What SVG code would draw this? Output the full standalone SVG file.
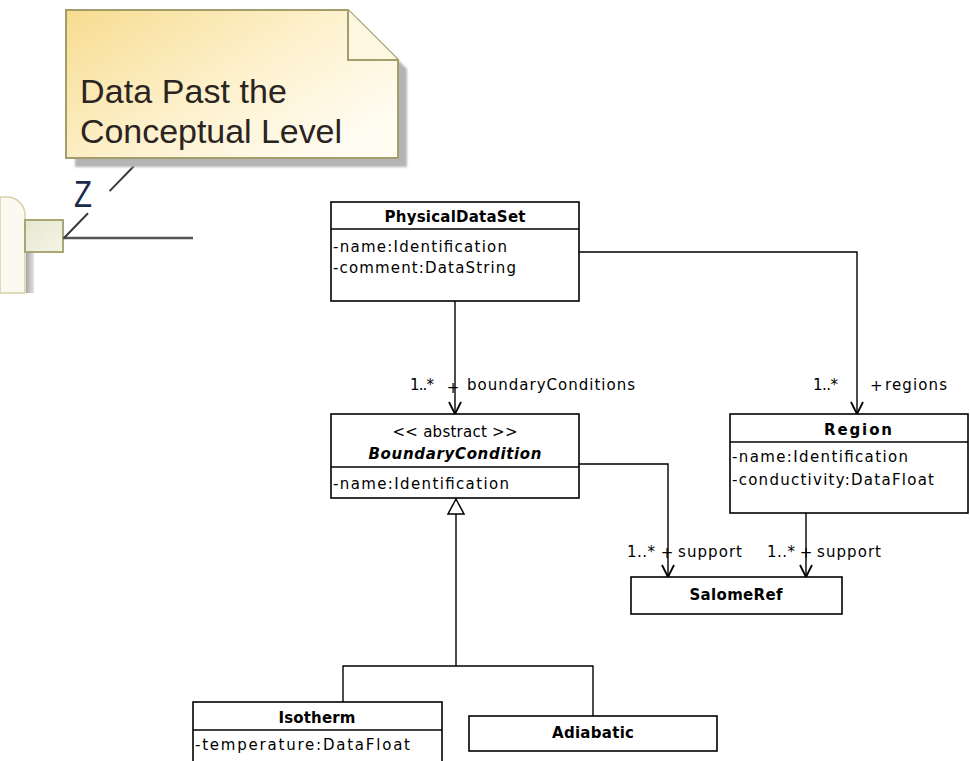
<svg xmlns="http://www.w3.org/2000/svg" width="970" height="761" viewBox="0 0 970 761">
<defs>
  <linearGradient id="noteFill" x1="0" y1="0" x2="1" y2="0.7">
    <stop offset="0" stop-color="#f7dc90"/>
    <stop offset="0.55" stop-color="#fdf1cc"/>
    <stop offset="1" stop-color="#fffcf2"/>
  </linearGradient>
  <linearGradient id="portFill" x1="0" y1="0" x2="1" y2="1">
    <stop offset="0" stop-color="#e6e6cf"/>
    <stop offset="1" stop-color="#f5f5e8"/>
  </linearGradient>
  <linearGradient id="edgeShade" x1="0" y1="0" x2="1" y2="0">
    <stop offset="0" stop-color="#a6a6a6"/>
    <stop offset="1" stop-color="#e2e2e2"/>
  </linearGradient>
  <filter id="soft" x="-10%" y="-10%" width="120%" height="120%">
    <feGaussianBlur stdDeviation="1.2"/>
  </filter>
  <marker id="open" viewBox="0 0 14 14" refX="13" refY="7" markerWidth="14" markerHeight="14" markerUnits="userSpaceOnUse" orient="auto">
    <path d="M1,1 L13,7 L1,13" fill="none" stroke="#000" stroke-width="1.8"/>
  </marker>
</defs>
<style>
  .box { fill: #fff; stroke: #000; stroke-width: 1.6; }
  .sep { stroke: #000; stroke-width: 1.4; }
  .edge { fill: none; stroke: #000; stroke-width: 1.4; }
  .t { font-family: "DejaVu Sans", "Liberation Sans", sans-serif; font-size: 15px; fill: #000; }
  .title { font-weight: bold; text-anchor: middle; }
  .mid { text-anchor: middle; }
  .note { font-family: "Liberation Sans", Arial, sans-serif; font-size: 34px; fill: #2a2422; }
</style>

<rect width="970" height="761" fill="#fff"/>

<!-- pasted fragment: part frame with port and a note -->
<g id="fragment">
  <path d="M0,197 H7 A18,18 0 0 1 25,215 V293 H0 Z" fill="#fbfaf1" stroke="#d6cfa8" stroke-width="1.5"/>
  <rect x="26" y="251" width="8" height="42" fill="url(#edgeShade)"/>
  <rect x="25" y="220" width="38" height="32" fill="url(#portFill)" stroke="#aaa676" stroke-width="2"/>
  <line x1="63" y1="238" x2="193" y2="238" stroke="#555" stroke-width="2.5"/>
  <line x1="134" y1="166" x2="64" y2="238" stroke="#3a3a3a" stroke-width="2" stroke-dasharray="35 31 40"/>
  <text x="74" y="207" font-family="Liberation Sans, Arial, sans-serif" font-size="36" fill="#1c2a4a" textLength="18" lengthAdjust="spacingAndGlyphs">Z</text>
</g>

<g id="note">
  <path d="M75,19 H357 L407,69 V167 H75 Z" fill="#b4b4b4" filter="url(#soft)"/>
  <path d="M66,10 H348 L398,60 V158 H66 Z" fill="url(#noteFill)" stroke="#a39c6b" stroke-width="2"/>
  <path d="M348,10 V60 H398" fill="#fdf7e2" stroke="#a39c6b" stroke-width="2"/>
  <text class="note" x="80" y="103" textLength="207">Data Past the</text>
  <text class="note" x="80" y="143" textLength="262">Conceptual Level</text>
</g>

<!-- connectors -->
<g id="connectors">
  <path class="edge" d="M455,301 V414" marker-end="url(#open)"/>
  <path class="edge" d="M579,252 H857 V414" marker-end="url(#open)"/>
  <path class="edge" d="M579,464 H668 V577" marker-end="url(#open)"/>
  <path class="edge" d="M806,513 V577" marker-end="url(#open)"/>
  <path class="edge" d="M456,514 V666 M343,702 V666 H593 V716"/>
  <path d="M456,499 L464,514 H448 Z" fill="#fff" stroke="#000" stroke-width="1.5"/>

  <text class="t" x="410" y="390" textLength="24">1..*</text>
  <text class="t mid" x="453" y="393">+</text>
  <text class="t" x="467" y="390" textLength="168">boundaryConditions</text>

  <text class="t" x="813" y="390" textLength="25">1..*</text>
  <text class="t" x="870" y="391">+</text>
  <text class="t" x="885" y="390" textLength="62">regions</text>

  <text class="t" x="627" y="557" textLength="28">1..*</text>
  <text class="t mid" x="667" y="558">+</text>
  <text class="t" x="678" y="557" textLength="64">support</text>

  <text class="t" x="767" y="557" textLength="28">1..*</text>
  <text class="t mid" x="806" y="558">+</text>
  <text class="t" x="817" y="557" textLength="64">support</text>
</g>

<g id="PhysicalDataSet">
  <rect class="box" x="331" y="202" width="248" height="99"/>
  <line class="sep" x1="331" y1="229" x2="579" y2="229"/>
  <text class="t title" x="455" y="222" textLength="141">PhysicalDataSet</text>
  <text class="t" x="333" y="252" textLength="174">-name:Identification</text>
  <text class="t" x="333" y="273" textLength="183">-comment:DataString</text>
</g>

<g id="BoundaryCondition">
  <rect class="box" x="331" y="414" width="248" height="84"/>
  <line class="sep" x1="331" y1="467" x2="579" y2="467"/>
  <text class="t mid" x="455" y="437" textLength="125">&lt;&lt; abstract &gt;&gt;</text>
  <text class="t title" x="455" y="459" font-style="italic" textLength="173">BoundaryCondition</text>
  <text class="t" x="333" y="489" textLength="176">-name:Identification</text>
</g>

<g id="Region">
  <rect class="box" x="730" y="414" width="238" height="99"/>
  <line class="sep" x1="730" y1="442" x2="968" y2="442"/>
  <text class="t title" x="858" y="435" textLength="68">Region</text>
  <text class="t" x="732" y="462" textLength="176">-name:Identification</text>
  <text class="t" x="732" y="485" textLength="202">-conductivity:DataFloat</text>
</g>

<g id="SalomeRef">
  <rect class="box" x="631" y="577" width="211" height="37"/>
  <text class="t title" x="736" y="600" textLength="93">SalomeRef</text>
</g>

<g id="Isotherm">
  <rect class="box" x="193" y="702" width="249" height="70"/>
  <line class="sep" x1="193" y1="730" x2="442" y2="730"/>
  <text class="t title" x="317" y="723" textLength="77">Isotherm</text>
  <text class="t" x="195" y="750" textLength="215">-temperature:DataFloat</text>
</g>

<g id="Adiabatic">
  <rect class="box" x="469" y="716" width="248" height="35"/>
  <text class="t title" x="593" y="738" textLength="82">Adiabatic</text>
</g>
</svg>
